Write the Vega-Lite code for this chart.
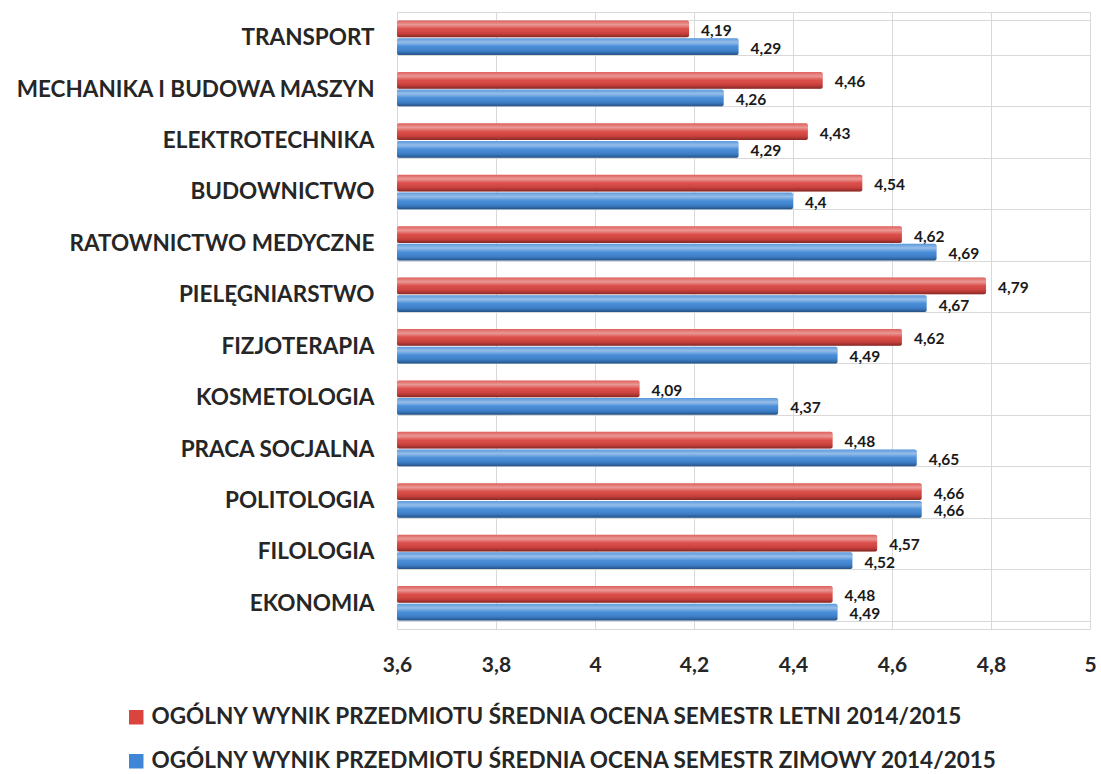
{
  "$schema": "https://vega.github.io/schema/vega-lite/v6.json",
  "autosize": "none",
  "padding": {"left": 397, "top": 12, "right": 11, "bottom": 145},
  "width": 693,
  "height": 617,
  "background": "white",
  "config": {
    "locale": {"number": {"decimal": ",", "thousands": " ", "grouping": [3], "currency": ["", " zł"]}},
    "view": {"stroke": "#d9d9d9", "strokeWidth": 1},
    "font": "Lato"
  },
  "data": {
    "values": [
      {"kierunek": "TRANSPORT", "seria": "OGÓLNY WYNIK PRZEDMIOTU ŚREDNIA OCENA SEMESTR LETNI 2014/2015", "s": 1, "ocena": 4.19},
      {"kierunek": "TRANSPORT", "seria": "OGÓLNY WYNIK PRZEDMIOTU ŚREDNIA OCENA SEMESTR ZIMOWY 2014/2015", "s": 2, "ocena": 4.29},
      {"kierunek": "MECHANIKA I BUDOWA MASZYN", "seria": "OGÓLNY WYNIK PRZEDMIOTU ŚREDNIA OCENA SEMESTR LETNI 2014/2015", "s": 1, "ocena": 4.46},
      {"kierunek": "MECHANIKA I BUDOWA MASZYN", "seria": "OGÓLNY WYNIK PRZEDMIOTU ŚREDNIA OCENA SEMESTR ZIMOWY 2014/2015", "s": 2, "ocena": 4.26},
      {"kierunek": "ELEKTROTECHNIKA", "seria": "OGÓLNY WYNIK PRZEDMIOTU ŚREDNIA OCENA SEMESTR LETNI 2014/2015", "s": 1, "ocena": 4.43},
      {"kierunek": "ELEKTROTECHNIKA", "seria": "OGÓLNY WYNIK PRZEDMIOTU ŚREDNIA OCENA SEMESTR ZIMOWY 2014/2015", "s": 2, "ocena": 4.29},
      {"kierunek": "BUDOWNICTWO", "seria": "OGÓLNY WYNIK PRZEDMIOTU ŚREDNIA OCENA SEMESTR LETNI 2014/2015", "s": 1, "ocena": 4.54},
      {"kierunek": "BUDOWNICTWO", "seria": "OGÓLNY WYNIK PRZEDMIOTU ŚREDNIA OCENA SEMESTR ZIMOWY 2014/2015", "s": 2, "ocena": 4.4},
      {"kierunek": "RATOWNICTWO MEDYCZNE", "seria": "OGÓLNY WYNIK PRZEDMIOTU ŚREDNIA OCENA SEMESTR LETNI 2014/2015", "s": 1, "ocena": 4.62},
      {"kierunek": "RATOWNICTWO MEDYCZNE", "seria": "OGÓLNY WYNIK PRZEDMIOTU ŚREDNIA OCENA SEMESTR ZIMOWY 2014/2015", "s": 2, "ocena": 4.69},
      {"kierunek": "PIELĘGNIARSTWO", "seria": "OGÓLNY WYNIK PRZEDMIOTU ŚREDNIA OCENA SEMESTR LETNI 2014/2015", "s": 1, "ocena": 4.79},
      {"kierunek": "PIELĘGNIARSTWO", "seria": "OGÓLNY WYNIK PRZEDMIOTU ŚREDNIA OCENA SEMESTR ZIMOWY 2014/2015", "s": 2, "ocena": 4.67},
      {"kierunek": "FIZJOTERAPIA", "seria": "OGÓLNY WYNIK PRZEDMIOTU ŚREDNIA OCENA SEMESTR LETNI 2014/2015", "s": 1, "ocena": 4.62},
      {"kierunek": "FIZJOTERAPIA", "seria": "OGÓLNY WYNIK PRZEDMIOTU ŚREDNIA OCENA SEMESTR ZIMOWY 2014/2015", "s": 2, "ocena": 4.49},
      {"kierunek": "KOSMETOLOGIA", "seria": "OGÓLNY WYNIK PRZEDMIOTU ŚREDNIA OCENA SEMESTR LETNI 2014/2015", "s": 1, "ocena": 4.09},
      {"kierunek": "KOSMETOLOGIA", "seria": "OGÓLNY WYNIK PRZEDMIOTU ŚREDNIA OCENA SEMESTR ZIMOWY 2014/2015", "s": 2, "ocena": 4.37},
      {"kierunek": "PRACA SOCJALNA", "seria": "OGÓLNY WYNIK PRZEDMIOTU ŚREDNIA OCENA SEMESTR LETNI 2014/2015", "s": 1, "ocena": 4.48},
      {"kierunek": "PRACA SOCJALNA", "seria": "OGÓLNY WYNIK PRZEDMIOTU ŚREDNIA OCENA SEMESTR ZIMOWY 2014/2015", "s": 2, "ocena": 4.65},
      {"kierunek": "POLITOLOGIA", "seria": "OGÓLNY WYNIK PRZEDMIOTU ŚREDNIA OCENA SEMESTR LETNI 2014/2015", "s": 1, "ocena": 4.66},
      {"kierunek": "POLITOLOGIA", "seria": "OGÓLNY WYNIK PRZEDMIOTU ŚREDNIA OCENA SEMESTR ZIMOWY 2014/2015", "s": 2, "ocena": 4.66},
      {"kierunek": "FILOLOGIA", "seria": "OGÓLNY WYNIK PRZEDMIOTU ŚREDNIA OCENA SEMESTR LETNI 2014/2015", "s": 1, "ocena": 4.57},
      {"kierunek": "FILOLOGIA", "seria": "OGÓLNY WYNIK PRZEDMIOTU ŚREDNIA OCENA SEMESTR ZIMOWY 2014/2015", "s": 2, "ocena": 4.52},
      {"kierunek": "EKONOMIA", "seria": "OGÓLNY WYNIK PRZEDMIOTU ŚREDNIA OCENA SEMESTR LETNI 2014/2015", "s": 1, "ocena": 4.48},
      {"kierunek": "EKONOMIA", "seria": "OGÓLNY WYNIK PRZEDMIOTU ŚREDNIA OCENA SEMESTR ZIMOWY 2014/2015", "s": 2, "ocena": 4.49}
    ]
  },
  "encoding": {
    "y": {
      "field": "kierunek", "type": "nominal", "sort": null,
      "scale": {"paddingInner": 0.33, "paddingOuter": 0.165},
      "axis": {
        "title": null, "domain": false, "ticks": false, "grid": true, "tickBand": "extent",
        "gridColor": "#d9d9d9", "labelFont": "Lato", "labelFontWeight": "bold", "labelFontSize": 22.5,
        "labelColor": "#262626", "labelPadding": 23, "labelLimit": 400
      }
    },
    "yOffset": {"field": "s", "type": "ordinal", "scale": {"paddingInner": 0.05}},
    "x": {
      "field": "ocena", "type": "quantitative",
      "scale": {"domain": [3.6, 5], "zero": false, "nice": false},
      "axis": {
        "title": null, "values": [3.6, 3.8, 4, 4.2, 4.4, 4.6, 4.8, 5], "format": ".1~f",
        "domain": false, "ticks": false, "grid": true, "gridColor": "#d9d9d9",
        "labelFont": "Lato", "labelFontWeight": "bold", "labelFontSize": 21, "labelColor": "#262626",
        "labelPadding": 25, "labelFlush": false
      }
    }
  },
  "layer": [
    {
      "mark": {"type": "bar", "cornerRadiusEnd": 2},
      "encoding": {
        "x2": {"datum": 3.6},
        "color": {
          "field": "seria", "type": "nominal",
          "scale": {"domain": ["OGÓLNY WYNIK PRZEDMIOTU ŚREDNIA OCENA SEMESTR LETNI 2014/2015", "OGÓLNY WYNIK PRZEDMIOTU ŚREDNIA OCENA SEMESTR ZIMOWY 2014/2015"], "range": ["#d9443f", "#3f87d6"]},
          "legend": {
            "title": null, "orient": "none", "legendX": -272, "legendY": 694, "direction": "vertical",
            "symbolType": "square", "symbolSize": 210, "symbolStrokeWidth": 0,
            "labelFont": "Lato", "labelFontWeight": "bold", "labelFontSize": 22.5, "labelColor": "#262626",
            "labelLimit": 1000, "rowPadding": 21, "labelOffset": 4
          }
        }
      }
    },
    {
      "mark": {
        "type": "bar", "cornerRadiusEnd": 2,
        "fill": {
          "gradient": "linear", "x1": 0, "y1": 0, "x2": 0, "y2": 1,
          "stops": [
            {"offset": 0, "color": "rgba(255,255,255,0.15)"},
            {"offset": 0.25, "color": "rgba(255,255,255,0.45)"},
            {"offset": 0.5, "color": "rgba(255,255,255,0.05)"},
            {"offset": 0.8, "color": "rgba(0,0,0,0.1)"},
            {"offset": 1, "color": "rgba(0,0,0,0.4)"}
          ]
        }
      },
      "encoding": {"x2": {"datum": 3.6}}
    },
    {
      "mark": {"type": "text", "align": "left", "baseline": "middle", "dx": 12, "dy": 2, "font": "Lato", "fontWeight": "bold", "fontSize": 15.5, "color": "#1a1a1a"},
      "encoding": {
        "text": {"field": "ocena", "type": "quantitative", "format": ".2~f"}
      }
    }
  ]
}
